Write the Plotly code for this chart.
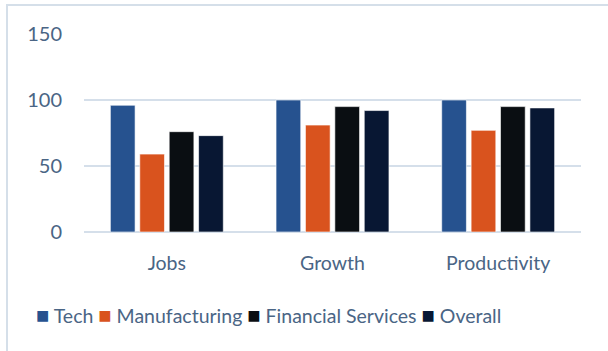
import plotly.graph_objects as go

categories = ["Jobs", "Growth", "Productivity"]
tech = [96, 100, 100]
manufacturing = [59, 81, 77]
financial_services = [76, 95, 95]
overall = [73, 92, 94]

series = [
    ("Tech", tech, "#26528f"),
    ("Manufacturing", manufacturing, "#d9531e"),
    ("Financial Services", financial_services, "#0a0e12"),
    ("Overall", overall, "#081733"),
]

text_color = "#4a6585"
grid_color = "#d5dfea"
font_family = "Lato, 'Open Sans', sans-serif"

fig = go.Figure()
for name, values, color in series:
    fig.add_trace(go.Bar(
        x=categories, y=values, name=name,
        marker=dict(color=color, line=dict(color="rgba(255,255,255,0.6)", width=1)),
    ))

# Legend row: coloured square keys followed by the series names
legend_text = "&nbsp;".join(
    f"<span style='color:{color};font-size:22px'>■</span>&nbsp;{name}"
    for name, _, color in series
)

fig.update_layout(
    width=608, height=351,
    margin=dict(l=84, r=27, t=34, b=119),
    paper_bgcolor="white", plot_bgcolor="white",
    barmode="group", bargap=0.29, bargroupgap=0.16,
    font=dict(family=font_family, size=19.5, color=text_color),
    showlegend=False,
    xaxis=dict(showgrid=False, showline=False, ticks="", ticklabelstandoff=17,
               tickfont=dict(size=19.5)),
    yaxis=dict(range=[0, 150], tickvals=[0, 50, 100, 150], showgrid=True,
               gridcolor=grid_color, gridwidth=2, zeroline=True,
               zerolinecolor=grid_color, zerolinewidth=2, showline=False,
               ticks="", ticklabelstandoff=21, tickfont=dict(size=20)),
    annotations=[dict(text=legend_text, xref="paper", yref="paper",
                      x=(268 - 84) / 497, y=(232 - 314) / 198,
                      xanchor="center", yanchor="middle", showarrow=False,
                      font=dict(size=19.5, color=text_color))],
    shapes=[dict(type="rect", xref="paper", yref="paper",
                 x0=(7 - 84) / 497, x1=1.3, y0=-1.0, y1=(232 - 5) / 198,
                 line=dict(color="#d5dfe9", width=2), layer="below")],
)

fig.write_html("out.html")
